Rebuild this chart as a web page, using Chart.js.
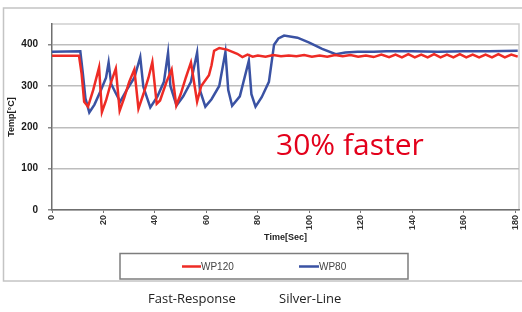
<!DOCTYPE html>
<html>
<head>
<meta charset="utf-8">
<script src="https://cdn.jsdelivr.net/npm/chart.js@4.4.1/dist/chart.umd.min.js"></script>
<style>
  html, body { margin: 0; padding: 0; background: #fff; }
  #wrap { width: 522px; height: 312px; position: relative; }
</style>
</head>
<body>
<div id="wrap"><canvas id="myChart" width="522" height="312"></canvas></div>
<script>
// series names
const seriesNames = ['WP120', 'WP80'];
const seriesColors = ['#ee2b25', '#3a52a3'];

// tick labels
const xTicks = [0, 20, 40, 60, 80, 100, 120, 140, 160, 180];
const yTicks = [0, 100, 200, 300, 400];

// WP120 (red) time [sec] / temp [°C]
const wp120Time = [0, 10.5, 11.5, 12.5, 14, 16, 18.3, 19.4, 21, 23, 24.8, 26.3, 28, 30, 32, 33.6,
  35.5, 37.5, 39, 40.7, 42, 44.5, 46.5, 48.3, 50, 52, 54, 56.4, 58, 61, 62, 63, 65, 68, 72, 74,
  76, 78, 80, 83, 86, 89, 92, 95, 98, 101, 104, 107, 110, 113, 116, 119, 122, 125, 128, 131,
  133.5, 136, 138.5, 141, 143.5, 146, 148.5, 151, 153.5, 156, 158.5, 161, 163.5, 166, 168.5,
  171, 173.5, 176, 178.5, 181];
const wp120Temp = [373, 373, 330, 262, 250, 290, 345, 237, 265, 310, 342, 240, 270, 310, 340, 245,
  280, 320, 358, 257, 265, 310, 340, 253, 280, 320, 357, 262, 300, 326, 350, 385, 392, 388, 378, 370,
  376, 371, 374, 371, 375, 372, 374, 372, 375, 371, 374, 371, 375, 372, 375, 371, 374, 370, 376, 370,
  376, 369, 377, 369, 376, 369, 377, 369, 376, 369, 377, 369, 376, 369, 376,
  369, 377, 369, 376, 371];

// WP80 (blue) time [sec] / temp [°C]
const wp80Time = [0, 11, 12, 13, 14.5, 16.5, 19, 21, 22, 23, 25, 26.5, 29, 32, 34.3, 35.5, 38.2,
  41, 43.5, 45.1, 46, 48.4, 51, 54, 56.4, 57.5, 59.6, 62, 65, 67.4, 68.5, 70, 73, 76.5, 77.5, 79.1,
  81.5, 84.3, 86.3, 88, 90.2, 95.4, 100, 105, 110.3, 114, 118.8, 125, 130, 140, 150, 160, 170, 181];
const wp80Temp = [383, 384, 330, 270, 236, 255, 290, 320, 357, 305, 280, 262, 290, 320, 370, 298, 248,
  275, 310, 380, 300, 253, 275, 310, 381, 290, 250, 268, 300, 382, 290, 252, 275, 361, 280, 250,
  273, 310, 400, 415, 422, 417, 405, 390, 377, 381, 383, 383, 384, 384, 383, 384, 384, 385];

const labelFont = 'Liberation Sans, Arial, sans-serif';
const textFont = 'Open Sans, Noto Sans, sans-serif';

function toPoints(xs, ys) {
  return xs.map((x, i) => ({ x: x, y: ys[i] }));
}

const decorations = {
  id: 'decorations',
  beforeDraw(chart) {
    const ctx = chart.ctx;
    ctx.save();
    ctx.fillStyle = '#fff';
    ctx.fillRect(0, 0, chart.width, chart.height);
    // outer frame
    ctx.strokeStyle = '#c4c4c4';
    ctx.lineWidth = 1.5;
    ctx.strokeRect(3.5, 8, 530, 273);
    // plot area border (top / right)
    const a = chart.chartArea;
    ctx.strokeStyle = '#cfcfcf';
    ctx.beginPath();
    ctx.moveTo(a.left, a.top);
    ctx.lineTo(a.right, a.top);
    ctx.lineTo(a.right, a.bottom);
    ctx.stroke();
    ctx.restore();
  },
  afterDraw(chart) {
    const ctx = chart.ctx;
    ctx.save();
    // legend box
    ctx.strokeStyle = '#7d7d7d';
    ctx.lineWidth = 1.5;
    ctx.strokeRect(120, 253.5, 288, 25.5);
    const items = [[182, 201], [299, 319]];
    ctx.font = '10px ' + labelFont;
    ctx.textBaseline = 'middle';
    chart.data.datasets.forEach((ds, i) => {
      ctx.strokeStyle = ds.borderColor;
      ctx.lineWidth = 2.5;
      ctx.beginPath();
      ctx.moveTo(items[i][0], 266.5);
      ctx.lineTo(items[i][1], 266.5);
      ctx.stroke();
      ctx.fillStyle = '#444';
      ctx.fillText(ds.label, items[i][1], 267);
    });
    // annotation
    ctx.fillStyle = '#e3001b';
    ctx.font = '30px ' + textFont;
    ctx.textBaseline = 'alphabetic';
    ctx.fillText('30% faster', 276, 155);
    // captions
    ctx.fillStyle = '#222';
    ctx.font = '13px ' + textFont;
    ctx.fillText('Fast-Response', 148, 303);
    ctx.fillText('Silver-Line', 279, 303);
    ctx.restore();
  }
};

new Chart('myChart', {
  type: 'line',
  data: {
    datasets: [
      { label: seriesNames[0], data: toPoints(wp120Time, wp120Temp), borderColor: seriesColors[0], borderWidth: 2.5, pointRadius: 0, tension: 0 },
      { label: seriesNames[1], data: toPoints(wp80Time, wp80Temp), borderColor: seriesColors[1], borderWidth: 2.5, pointRadius: 0, tension: 0 }
    ]
  },
  options: {
    responsive: false,
    animation: false,
    events: [],
    layout: { padding: { left: 0, top: 24, right: 3, bottom: 68 } },
    plugins: { legend: { display: false }, tooltip: { enabled: false } },
    scales: {
      x: {
        type: 'linear',
        min: 0,
        max: 181.5,
        afterFit: s => { s.height = 34; s.paddingLeft = 0; s.paddingRight = 0; },
        afterBuildTicks: s => { s.ticks = xTicks.map(v => ({ value: v })); },
        ticks: { minRotation: 90, maxRotation: 90, autoSkip: false, padding: 2, color: '#333', font: { family: labelFont, size: 9, weight: 'bold' } },
        grid: { drawOnChartArea: false, tickLength: 3, color: '#777' },
        border: { color: '#6f6f6f', width: 1.5 },
        title: { display: true, text: 'Time[Sec]', color: '#222', padding: { top: 0, bottom: 0.6 }, font: { family: labelFont, size: 9, weight: 'bold' } }
      },
      y: {
        min: 0,
        max: 450,
        afterFit: s => { s.width = 52; s.paddingTop = 0; s.paddingBottom = 0; },
        afterBuildTicks: s => { s.ticks = yTicks.map(v => ({ value: v })); },
        ticks: { padding: 10, color: '#1a1a1a', font: { family: labelFont, size: 10, weight: 'bold' } },
        grid: { color: '#bdbdbd', lineWidth: 1.5, tickLength: 4, tickColor: '#888' },
        border: { color: '#6f6f6f', width: 1.5 },
        title: { display: true, text: 'Temp[°C]', color: '#222', padding: { top: 6.5, bottom: 0 }, font: { family: labelFont, size: 9, weight: 'bold' } }
      }
    }
  },
  plugins: [decorations]
});
</script>
</body>
</html>
